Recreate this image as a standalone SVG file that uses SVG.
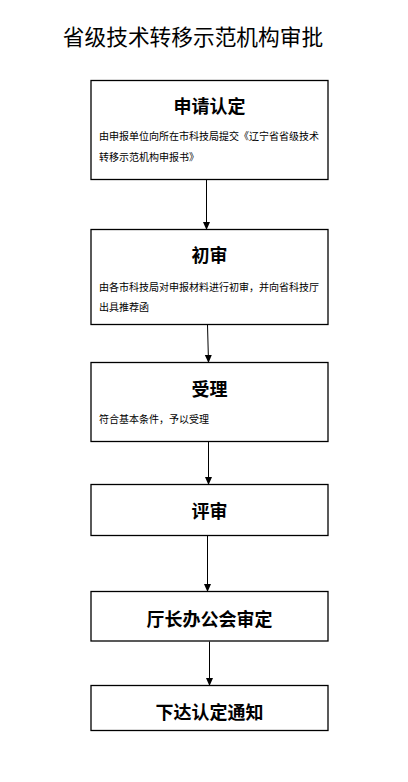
<svg xmlns="http://www.w3.org/2000/svg" width="408" height="782" viewBox="0 0 408 782">
<style>
.box{fill:#fff;stroke:#000;stroke-width:1.3}
.t{font-family:"Noto Sans CJK SC","Liberation Sans",sans-serif;font-size:18px;font-weight:bold;text-anchor:middle;fill:#000}
.s{font-family:"Noto Sans CJK SC","Liberation Sans",sans-serif;font-size:10px;fill:#000}
.ttl{font-family:"Noto Sans CJK SC","Liberation Sans",sans-serif;font-size:21.7px;text-anchor:middle;fill:#000}
.c{stroke:#000;stroke-width:1;fill:none;marker-end:url(#ah)}
</style>
<defs>
<marker id="ah" markerWidth="8" markerHeight="8" refX="7" refY="4" orient="auto" markerUnits="userSpaceOnUse">
<path d="M0,0.5 L8,4 L0,7.5 Z" fill="#000"/>
</marker>
</defs>
<rect width="408" height="782" fill="#fff"/>
<text class="ttl" x="193" y="45">省级技术转移示范机构审批</text>
<g id="n1">
<rect class="box" x="91" y="80.5" width="237" height="99"/>
<text class="t" x="209.5" y="113">申请认定</text>
<text class="s" x="99" y="140">由申报单位向所在市科技局提交《辽宁省省级技术</text>
<text class="s" x="99" y="161">转移示范机构申报书》</text>
</g>
<g id="n2">
<rect class="box" x="91" y="229.5" width="237" height="95"/>
<text class="t" x="209.5" y="262">初审</text>
<text class="s" x="99" y="291">由各市科技局对申报材料进行初审，并向省科技厅</text>
<text class="s" x="99" y="311">出具推荐函</text>
</g>
<g id="n3">
<rect class="box" x="91" y="362.5" width="237" height="79"/>
<text class="t" x="209.5" y="396">受理</text>
<text class="s" x="99" y="423">符合基本条件，予以受理</text>
</g>
<g id="n4">
<rect class="box" x="91" y="484.5" width="237" height="51"/>
<text class="t" x="209.5" y="518">评审</text>
</g>
<g id="n5">
<rect class="box" x="91" y="591.5" width="237" height="49.5"/>
<text class="t" x="209.5" y="626">厅长办公会审定</text>
</g>
<g id="n6">
<rect class="box" x="91" y="685.5" width="237" height="45"/>
<text class="t" x="209.5" y="719">下达认定通知</text>
</g>
<g id="connectors">
<line class="c" x1="206.5" y1="180" x2="206.5" y2="229"/>
<line class="c" x1="207.5" y1="325" x2="208.5" y2="362"/>
<line class="c" x1="208.5" y1="442" x2="208.5" y2="484"/>
<line class="c" x1="207.5" y1="536" x2="207.5" y2="591"/>
<line class="c" x1="209.5" y1="641.5" x2="209.5" y2="685"/>
</g>
</svg>
